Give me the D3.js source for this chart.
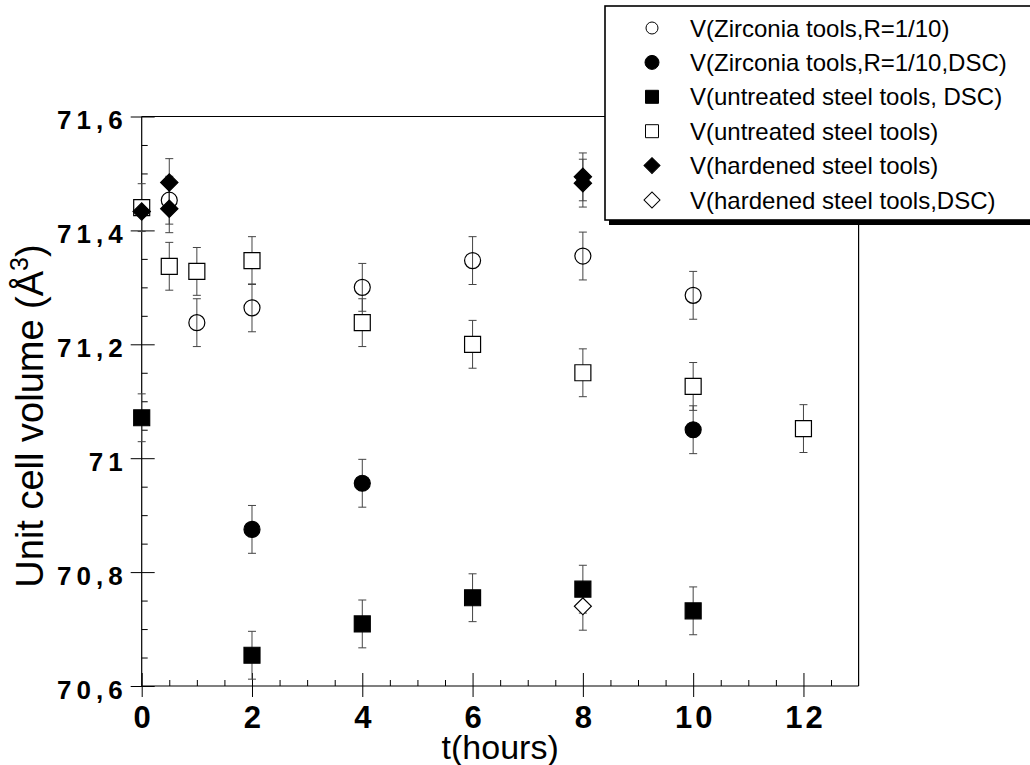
<!DOCTYPE html>
<html>
<head>
<meta charset="utf-8">
<script src="https://cdn.jsdelivr.net/npm/d3@7"></script>
<style>
  html, body { margin: 0; padding: 0; background: #fff; }
  svg { display: block; }
  text { font-family: "Liberation Sans", Arial, Helvetica, sans-serif; fill: #000; }
</style>
</head>
<body>
<svg id="chart" width="1030" height="765"></svg>
<script>
// ---- data ----
const xTicks = [0, 2, 4, 6, 8, 10, 12];
const xTickLabels = ["0", "2", "4", "6", "8", "10", "12"];
const yTicks = [70.6, 70.8, 71.0, 71.2, 71.4, 71.6];
const yTickLabels = ["70,6", "70,8", "71", "71,2", "71,4", "71,6"];

const zircT = [0.5, 1, 2, 4, 6, 8, 10];
const zircV = [71.453, 71.238, 71.264, 71.300, 71.347, 71.355, 71.286];
const zircE = [0.042, 0.042, 0.042, 0.042, 0.042, 0.042, 0.042];

const zircDscT = [2, 4, 10];
const zircDscV = [70.875, 70.956, 71.050];
const zircDscE = [0.042, 0.042, 0.042];

const untrDscT = [0, 2, 4, 6, 8, 10];
const untrDscV = [71.071, 70.654, 70.709, 70.755, 70.770, 70.732];
const untrDscE = [0.042, 0.042, 0.042, 0.042, 0.042, 0.042];

const untrT = [0, 0.5, 1, 2, 4, 6, 8, 10, 12];
const untrV = [71.440, 71.337, 71.328, 71.347, 71.238, 71.200, 71.150, 71.126, 71.052];
const untrE = [0.042, 0.042, 0.042, 0.042, 0.042, 0.042, 0.042, 0.042, 0.042];

const hardT = [0, 0.5, 0.5, 8, 8];
const hardV = [71.433, 71.484, 71.438, 71.494, 71.483];
const hardE = [0, 0.042, 0.042, 0.042, 0.042];

const hardDscT = [8];
const hardDscV = [70.740];
const hardDscE = [0.042];

const seriesNames = [
  "V(Zirconia tools,R=1/10)",
  "V(Zirconia tools,R=1/10,DSC)",
  "V(untreated steel tools, DSC)",
  "V(untreated steel tools)",
  "V(hardened steel tools)",
  "V(hardened steel tools,DSC)"
];

// ---- build series table ----
function mk(t, v, e) { return t.map((d, i) => ({ t: d, v: v[i], e: e[i] })); }
const series = [
  { name: seriesNames[0], pts: mk(zircT, zircV, zircE), shape: "circle", fill: "none", size: 201, lsize: 113, order: 0 },
  { name: seriesNames[1], pts: mk(zircDscT, zircDscV, zircDscE), shape: "circle", fill: "#000", size: 201, lsize: 154, order: 2 },
  { name: seriesNames[2], pts: mk(untrDscT, untrDscV, untrDscE), shape: "square", fill: "#000", size: 256, lsize: 169, order: 3 },
  { name: seriesNames[3], pts: mk(untrT, untrV, untrE), shape: "square", fill: "#fff", size: 256, lsize: 169, order: 1 },
  { name: seriesNames[4], pts: mk(hardT, hardV, hardE), shape: "diamond", fill: "#000", size: 150, lsize: 128, order: 5 },
  { name: seriesNames[5], pts: mk(hardDscT, hardDscV, hardDscE), shape: "diamond", fill: "#fff", size: 144, lsize: 128, order: 4 }
];

// ---- layout ----
const svg = d3.select("#chart");
const x = d3.scaleLinear().domain([0, 13]).range([141.7, 858.6]);
const y = d3.scaleLinear().domain([70.6, 71.6]).range([686, 116.5]);

const legendBox = { x: 605, y: 6, h: 214 };

function symbolPath(shape, size) {
  const type = shape === "circle" ? d3.symbolCircle : d3.symbolSquare;
  return d3.symbol().type(type).size(size)();
}
function symbolRotate(shape) { return shape === "diamond" ? " rotate(45)" : ""; }

// ---- frame ----
const frame = svg.append("g").attr("stroke", "#000").attr("stroke-width", 1.2).attr("fill", "none");
frame.append("line").attr("x1", x(0)).attr("x2", x(0)).attr("y1", y(71.6)).attr("y2", y(70.6));
frame.append("line").attr("x1", x(0)).attr("x2", x(13)).attr("y1", y(70.6)).attr("y2", y(70.6));
frame.append("line").attr("x1", x(0)).attr("x2", legendBox.x).attr("y1", y(71.6)).attr("y2", y(71.6));
frame.append("line").attr("x1", x(13)).attr("x2", x(13)).attr("y1", legendBox.y + legendBox.h).attr("y2", y(70.6));

// ---- axes ----
const xMinorVals = d3.range(0.5, 13, 0.5).filter(v => Math.abs(v % 2) > 1e-6);
const yMinorVals = d3.range(70.65, 71.6, 0.05).filter(v => yTicks.every(t => Math.abs(t - v) > 1e-6));

const xMinorAxis = d3.axisBottom(x).tickValues(xMinorVals).tickSize(-6).tickFormat("");
const gxm = svg.append("g").attr("transform", `translate(0,${y(70.6)})`).call(xMinorAxis);
gxm.select(".domain").remove();
gxm.selectAll("line").attr("stroke", "#000").attr("stroke-width", 1);

const xAxis = d3.axisBottom(x).tickValues(xTicks).tickSize(11).tickPadding(10)
  .tickFormat((d, i) => xTickLabels[i]);
const gx = svg.append("g").attr("transform", `translate(0,${y(70.6)})`).call(xAxis);
gx.select(".domain").remove();
gx.selectAll("line").attr("y1", -13).attr("stroke", "#000").attr("stroke-width", 1);
gx.selectAll("text")
  .attr("font-size", 31).attr("font-weight", "bold")
  .attr("letter-spacing", 3).attr("dx", 1.5)
  .attr("y", 0).attr("dy", 0).attr("transform", "translate(0,42)")
  .style("font-family", "'Liberation Sans', Arial, sans-serif");

const yMinorAxis = d3.axisLeft(y).tickValues(yMinorVals).tickSize(-6).tickFormat("");
const gym = svg.append("g").attr("transform", `translate(${x(0)},0)`).call(yMinorAxis);
gym.select(".domain").remove();
gym.selectAll("line").attr("stroke", "#000").attr("stroke-width", 1);

const yAxis = d3.axisLeft(y).tickValues(yTicks).tickSize(11).tickPadding(0)
  .tickFormat((d, i) => yTickLabels[i]);
const gy = svg.append("g").attr("transform", `translate(${x(0)},0)`).call(yAxis);
gy.select(".domain").remove();
gy.selectAll("line").attr("x1", 13).attr("stroke", "#000").attr("stroke-width", 1);
gy.selectAll("text")
  .attr("font-size", 26).attr("font-weight", "bold")
  .attr("letter-spacing", 5)
  .attr("x", -14).attr("dy", 0).attr("y", 12)
  .style("font-family", "'Liberation Sans', Arial, sans-serif");

// ---- axis titles ----
svg.append("text")
  .attr("x", (x(0) + x(13)) / 2).attr("y", 759)
  .attr("text-anchor", "middle").attr("font-size", 34)
  .text("t(hours)");

const yt = svg.append("text")
  .attr("transform", "translate(43,416) rotate(-90)")
  .attr("text-anchor", "middle").attr("font-size", 38);
yt.append("tspan").text("Unit cell volume (Å");
yt.append("tspan").attr("font-size", 25).attr("dy", -15).text("3");
yt.append("tspan").attr("dy", 15).text(")");

// ---- data: error bars then markers ----
const drawOrder = series.slice().sort((a, b) => a.order - b.order);
const plot = svg.append("g");
drawOrder.forEach(s => {
  const g = plot.append("g");
  const eb = g.selectAll("g.eb").data(s.pts.filter(p => p.e > 0)).join("g").attr("class", "eb")
    .attr("stroke", "#444").attr("stroke-width", 1);
  eb.append("line").attr("x1", d => x(d.t)).attr("x2", d => x(d.t))
    .attr("y1", d => y(d.v + d.e)).attr("y2", d => y(d.v - d.e));
  eb.append("line").attr("x1", d => x(d.t) - 4).attr("x2", d => x(d.t) + 4)
    .attr("y1", d => y(d.v + d.e)).attr("y2", d => y(d.v + d.e));
  eb.append("line").attr("x1", d => x(d.t) - 4).attr("x2", d => x(d.t) + 4)
    .attr("y1", d => y(d.v - d.e)).attr("y2", d => y(d.v - d.e));
});
drawOrder.forEach(s => {
  plot.append("g").selectAll("path").data(s.pts).join("path")
    .attr("d", symbolPath(s.shape, s.size))
    .attr("transform", d => `translate(${x(d.t)},${y(d.v)})${symbolRotate(s.shape)}`)
    .attr("fill", s.fill).attr("stroke", "#000").attr("stroke-width", 1.2);
});

// ---- legend ----
const lg = svg.append("g");
lg.append("rect").attr("x", legendBox.x + 4).attr("y", legendBox.y + legendBox.h)
  .attr("width", 1030 - legendBox.x).attr("height", 5).attr("fill", "#000");
lg.append("rect").attr("x", legendBox.x).attr("y", legendBox.y)
  .attr("width", 1030 - legendBox.x + 10).attr("height", legendBox.h)
  .attr("fill", "#fff").attr("stroke", "#000").attr("stroke-width", 1.6);
const rowY = d3.scalePoint().domain(seriesNames).range([28, 200]);
series.forEach(s => {
  const cy = rowY(s.name);
  lg.append("path").attr("d", symbolPath(s.shape, s.lsize))
    .attr("transform", `translate(652,${cy})${symbolRotate(s.shape)}`)
    .attr("fill", s.fill === "none" ? "#fff" : s.fill).attr("stroke", "#000").attr("stroke-width", 1);
  lg.append("text").attr("x", 690).attr("y", cy + 8.5).attr("font-size", 24).text(s.name);
});
</script>
</body>
</html>
